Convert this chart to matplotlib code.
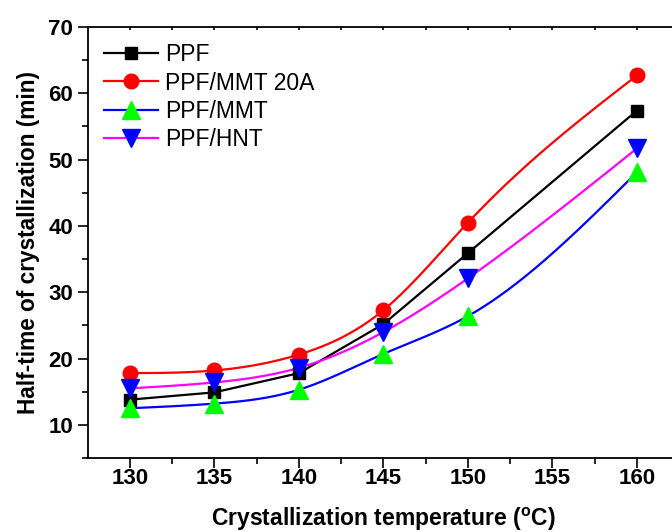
import matplotlib
matplotlib.use("Agg")
import matplotlib.pyplot as plt
import numpy as np

plt.rcParams['font.family'] = ['Liberation Sans', 'DejaVu Sans']

# crystallization temperatures (C)
temps = [130, 135, 140, 145, 150, 160]

# half-time of crystallization (min)
ppf = [13.8, 14.9, 17.8, 25.2, 35.9, 57.4]
ppf_mmt20a = [17.8, 18.2, 20.6, 27.3, 40.5, 62.7]
ppf_mmt = [12.5, 13.2, 15.3, 20.7, 26.4, 48.1]
ppf_hnt = [15.5, 16.4, 18.6, 24.0, 32.1, 51.7]


def natural_spline(x, y, n=300):
    # small natural cubic spline so the curves look like the Origin ones
    x = np.asarray(x, float)
    y = np.asarray(y, float)
    k = len(x)
    h = np.diff(x)
    A = np.zeros((k, k))
    b = np.zeros(k)
    A[0, 0] = A[-1, -1] = 1
    for i in range(1, k - 1):
        A[i, i - 1] = h[i - 1]
        A[i, i] = 2 * (h[i - 1] + h[i])
        A[i, i + 1] = h[i]
        b[i] = 6 * ((y[i + 1] - y[i]) / h[i] - (y[i] - y[i - 1]) / h[i - 1])
    m = np.linalg.solve(A, b)
    xs = np.linspace(x[0], x[-1], n)
    idx = np.clip(np.searchsorted(x, xs) - 1, 0, k - 2)
    x0, x1 = x[idx], x[idx + 1]
    hh = x1 - x0
    t0, t1 = x1 - xs, xs - x0
    ys = (m[idx] * t0**3 + m[idx + 1] * t1**3) / (6 * hh) \
        + (y[idx] / hh - m[idx] * hh / 6) * t0 \
        + (y[idx + 1] / hh - m[idx + 1] * hh / 6) * t1
    return xs, ys


fig = plt.figure(figsize=(6.72, 5.32), dpi=100)
ax = fig.add_axes([87.7 / 672, 74 / 532, 591.5 / 672, 431 / 532])

lw = 1.6
# lines
ax.plot(temps, ppf, color='black', lw=lw, zorder=2)
for vals, c in [(ppf_mmt20a, 'red'), (ppf_mmt, 'blue'), (ppf_hnt, 'magenta')]:
    xs, ys = natural_spline(temps, vals)
    ax.plot(xs, ys, color=c, lw=lw, zorder=2)

# markers
ax.plot(temps, ppf, ls='none', marker='s', ms=9, color='black', zorder=3)
ax.plot(temps, ppf_mmt20a, ls='none', marker='o', ms=10.5, color='red', zorder=3)
ax.plot(temps, ppf_mmt, ls='none', marker='^', ms=12.5, color='#00ff00', zorder=3)
ax.plot(temps, ppf_hnt, ls='none', marker='v', ms=12.5, color='blue', zorder=3)

# legend handles
h1, = ax.plot([], [], color='black', lw=lw, marker='s', ms=9)
h2, = ax.plot([], [], color='red', lw=lw, marker='o', ms=10.5)
h3, = ax.plot([], [], color='blue', lw=lw, marker='^', ms=12.5,
              mfc='#00ff00', mec='#00ff00')
h4, = ax.plot([], [], color='magenta', lw=lw, marker='v', ms=12.5,
              mfc='blue', mec='blue')
fig.legend([h1, h2, h3, h4], ['PPF', 'PPF/MMT 20A', 'PPF/MMT', 'PPF/HNT'],
           loc='upper left', bbox_to_anchor=(104 / 672, 1 - 43 / 532),
           frameon=False, fontsize=16.5, handlelength=2.35, handletextpad=0.3,
           labelspacing=0.24, borderpad=0, borderaxespad=0)

ax.set_xlim(127.5, 162.5)
ax.set_ylim(5, 70)
ax.set_xticks([130, 135, 140, 145, 150, 155, 160])
ax.set_xticks(np.arange(132.5, 162, 5), minor=True)
ax.set_yticks([10, 20, 30, 40, 50, 60, 70])
ax.set_yticks([5, 15, 25, 35, 45, 55, 65], minor=True)

for s in ax.spines.values():
    s.set_linewidth(1.3)
ax.spines['right'].set_visible(False)

ax.tick_params(which='major', direction='out', length=7, width=1.2,
               labelsize=16)
ax.tick_params(which='minor', direction='out', length=4, width=1.2)
ax.xaxis.set_tick_params(which='major', pad=7)
for lab in ax.get_xticklabels() + ax.get_yticklabels():
    lab.set_fontweight('bold')
# tiny ticks on the top spine
ax.tick_params(axis='x', which='both', top=True, labeltop=False,
               direction='in')
for t in ax.xaxis.get_major_ticks() + ax.xaxis.get_minor_ticks():
    t.tick2line.set_markersize(2)
    t.tick1line.set_marker(matplotlib.lines.TICKDOWN)

ax.set_xlabel('Crystallization temperature ($\\mathregular{^{o}}$C)',
              fontsize=16.5, fontweight='bold', labelpad=12)
ax.set_ylabel('Half-time of crystallization (min)', fontsize=16.3,
              fontweight='bold', labelpad=6)

fig.savefig('out.png', dpi=100)
